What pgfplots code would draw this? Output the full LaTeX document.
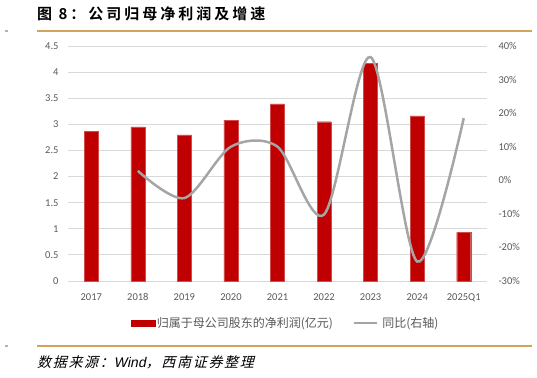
\documentclass[border=0pt]{standalone}
\usepackage{pgfplots}
\pgfplotsset{compat=1.18}
\usepackage{fontspec}
\setmainfont{Carlito}
\newfontfamily\cjk{Noto Sans CJK SC}
\newfontfamily\cjkb[LetterSpace=20]{Noto Sans CJK SC Bold}
\newfontfamily\cjki[FakeSlant=0.25,LetterSpace=12]{Noto Sans CJK SC}
\newfontfamily\sansi[FakeSlant=0.2]{Liberation Sans}
\definecolor{barred}{HTML}{C00000}
\definecolor{linegray}{HTML}{A5A5A5}
\definecolor{gridc}{HTML}{D9D9D9}
\definecolor{tickc}{HTML}{595959}
\definecolor{gold}{HTML}{D2A35A}
\begin{document}
\begin{tikzpicture}[x=1bp,y=1bp]
\useasboundingbox (0,0) rectangle (537,377);
% header / footer
\node[anchor=west,inner sep=0] at (37,363) {\cjkb\fontsize{15bp}{17bp}\selectfont 图\ 8：公司归母净利润及增速};
\draw[gold,line width=1.5bp] (37,346) -- (532,346);
\draw[gray!60,line width=1.2bp] (5,346) -- (8,346);
\draw[gold,line width=1.5bp] (37,31) -- (532,31);
\draw[gray!60,line width=1.2bp] (5,31) -- (8,31);
\node[anchor=west,inner sep=0] at (37,15) {\cjki\fontsize{14bp}{16bp}\selectfont 数据来源：{\sansi Wind}，西南证券整理};
\begin{axis}[
  at={(68bp,96bp)}, anchor=south west,
  scale only axis, width=419bp, height=235bp,
  xmin=-0.5, xmax=8.5, ymin=0, ymax=4.5,
  xtick={0,...,8},
  xticklabels={2017,2018,2019,2020,2021,2022,2023,2024,2025Q1},
  ytick={0,0.5,...,4.5},
  axis x line*=bottom, axis y line*=left,
  y axis line style={draw=none},
  x axis line style={draw=gridc, line width=0.8bp},
  major tick length=0pt,
  ymajorgrids, grid style={gridc, line width=0.8bp},
  tick label style={font=\fontsize{10.5bp}{12bp}\selectfont, text=tickc},
  /pgf/number format/assume math mode=true,
  xticklabel style={yshift=-9bp},
  yticklabel style={xshift=-6bp},
  legend style={at={(0.519,-0.179)}, anchor=center, draw=none, fill=none,
    legend columns=2, font=\cjk\fontsize{12bp}{14bp}\selectfont, text=tickc,
    /tikz/every even column/.append style={column sep=18bp},
    nodes={inner sep=1.5bp}},
]
\addplot[ybar, bar width=14bp, fill=barred, draw=barred!70!white, line width=0.4bp,
  legend image code/.code={\fill[barred] (0bp,-3bp) rectangle (24bp,3bp);}]
  coordinates {(0,2.87) (1,2.95) (2,2.80) (3,3.08) (4,3.39) (5,3.05) (6,4.17) (7,3.16) (8,0.93)};
\addlegendentry{归属于母公司股东的净利润(亿元)}
\addlegendimage{linegray, line width=2.5bp, legend image code/.code={\draw[linegray,line width=2.5bp] (0bp,0bp) -- (23bp,0bp);}}
\addlegendentry{\hspace{3bp}同比(右轴)}
\end{axis}
\begin{axis}[
  at={(68bp,96bp)}, anchor=south west,
  scale only axis, width=419bp, height=235bp,
  xmin=-0.5, xmax=8.5, ymin=-30, ymax=40,
  ytick={-30,-20,...,40},
  yticklabel={\pgfmathprintnumber{\tick}\%},
  axis x line=none, axis y line*=right,
  y axis line style={draw=none},
  major tick length=0pt,
  tick label style={font=\fontsize{10.5bp}{12bp}\selectfont, text=tickc},
  /pgf/number format/assume math mode=true,
  yticklabel style={anchor=west, xshift=8bp},
]
\addplot[linegray, line width=2.5bp, smooth, tension=0.5]
  coordinates {(1,2.8) (2,-5.3) (3,10.0) (4,10.0) (5,-10.2) (6,36.7) (7,-24.2) (8,18.5)};
\end{axis}
\end{tikzpicture}
\end{document}
